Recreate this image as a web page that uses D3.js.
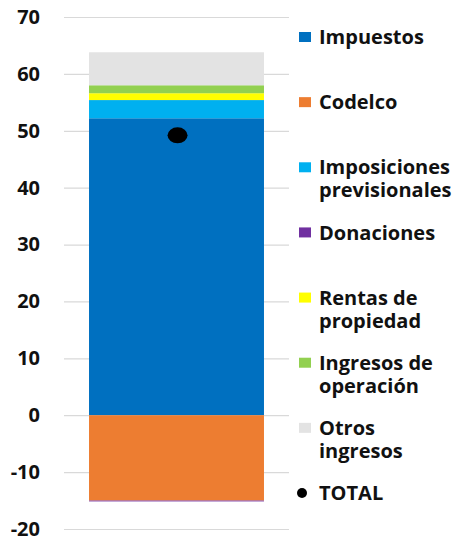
<!DOCTYPE html>
<html>
<head>
<meta charset="utf-8">
<script src="https://cdn.jsdelivr.net/npm/d3@7"></script>
<style>
  body { margin: 0; background: #fff; }
  text { font-family: "Open Sans", sans-serif; font-weight: 700; fill: #111; }
</style>
</head>
<body>
<div id="chart"></div>
<script>
const width = 456;
const height = 540;

// one stacked column, values in % of GDP
const categories = ["Ingresos"];
const seriesNames = ["Impuestos", "Codelco", "Imposiciones previsionales", "Donaciones",
  "Rentas de propiedad", "Ingresos de operación", "Otros ingresos"];
const seriesValues = [52.2, -15.0, 3.2, -0.15, 1.2, 1.4, 5.8];
const seriesColors = ["#0070C0", "#ED7D31", "#00B0F0", "#7030A0", "#FFFF00", "#92D050", "#E3E3E3"];
const totalValues = [49.2];
const yTicks = [-20, -10, 0, 10, 20, 30, 40, 50, 60, 70];

// legend rows, label lines
const legendLines = [
  ["Impuestos"], ["Codelco"], ["Imposiciones", "previsionales"], ["Donaciones"],
  ["Rentas de", "propiedad"], ["Ingresos de", "operación"], ["Otros", "ingresos"], ["TOTAL"]
];

const svg = d3.select("#chart")
  .append("svg")
  .attr("width", width)
  .attr("height", height);

const y = d3.scaleLinear()
  .domain([-20, 70])
  .range([529, 17]);

const x = d3.scaleBand()
  .domain(categories)
  .range([64, 289])
  .paddingInner(0)
  .paddingOuter(0.143);

// gridlines
svg.append("g")
  .attr("transform", "translate(64,0)")
  .call(d3.axisRight(y).tickValues(yTicks).tickSize(225).tickFormat(""))
  .call(g => g.select(".domain").remove())
  .call(g => g.selectAll("line").attr("stroke", "#d9d9d9").attr("stroke-width", 1.2));

// tick labels
svg.append("g")
  .attr("transform", "translate(40,0)")
  .call(d3.axisLeft(y).tickValues(yTicks).tickSize(0).tickPadding(0).tickFormat(d => String(d)))
  .call(g => g.select(".domain").remove())
  .call(g => g.selectAll("text")
    .style("font-family", "'Open Sans', sans-serif")
    .style("font-weight", 700)
    .style("font-size", "20px")
    .attr("fill", "#111"));

const rows = categories.map((c, i) => {
  const r = { cat: c };
  seriesNames.forEach((s, j) => r[s] = seriesValues[j]);
  return r;
});

const stack = d3.stack()
  .keys(seriesNames)
  .offset(d3.stackOffsetDiverging);

const stacked = stack(rows);

svg.append("g")
  .selectAll("g")
  .data(stacked)
  .join("g")
  .attr("fill", (d, i) => seriesColors[i])
  .selectAll("rect")
  .data(d => d)
  .join("rect")
  .attr("x", d => x(d.data.cat))
  .attr("width", x.bandwidth())
  .attr("y", d => y(Math.max(d[0], d[1])))
  .attr("height", d => Math.abs(y(d[0]) - y(d[1])));

// total marker
svg.append("g")
  .selectAll("ellipse")
  .data(totalValues)
  .join("ellipse")
  .attr("cx", (d, i) => x(categories[i]) + x.bandwidth() * 0.506)
  .attr("cy", d => y(d))
  .attr("rx", 10)
  .attr("ry", 8)
  .attr("fill", "#000");

// legend
const legendY = d3.scaleLinear().domain([0, 7]).range([37, 493]);
const legendColors = [...seriesColors, "#000"];

const item = svg.append("g")
  .selectAll("g")
  .data(legendLines)
  .join("g")
  .attr("transform", (d, i) => `translate(0,${legendY(i)})`);

item.filter((d, i) => i < 7)
  .append("rect")
  .attr("x", 299)
  .attr("y", -5)
  .attr("width", 12)
  .attr("height", 10)
  .attr("fill", (d, i) => legendColors[i]);

item.filter((d, i) => i === 7)
  .append("circle")
  .attr("cx", 302)
  .attr("cy", 0)
  .attr("r", 5)
  .attr("fill", "#000");

item.append("text")
  .style("font-size", "20px")
  .selectAll("tspan")
  .data(d => d)
  .join("tspan")
  .attr("x", 319)
  .attr("y", (d, j) => j * 23)
  .attr("dy", "0.36em")
  .text(d => d);
</script>
</body>
</html>
